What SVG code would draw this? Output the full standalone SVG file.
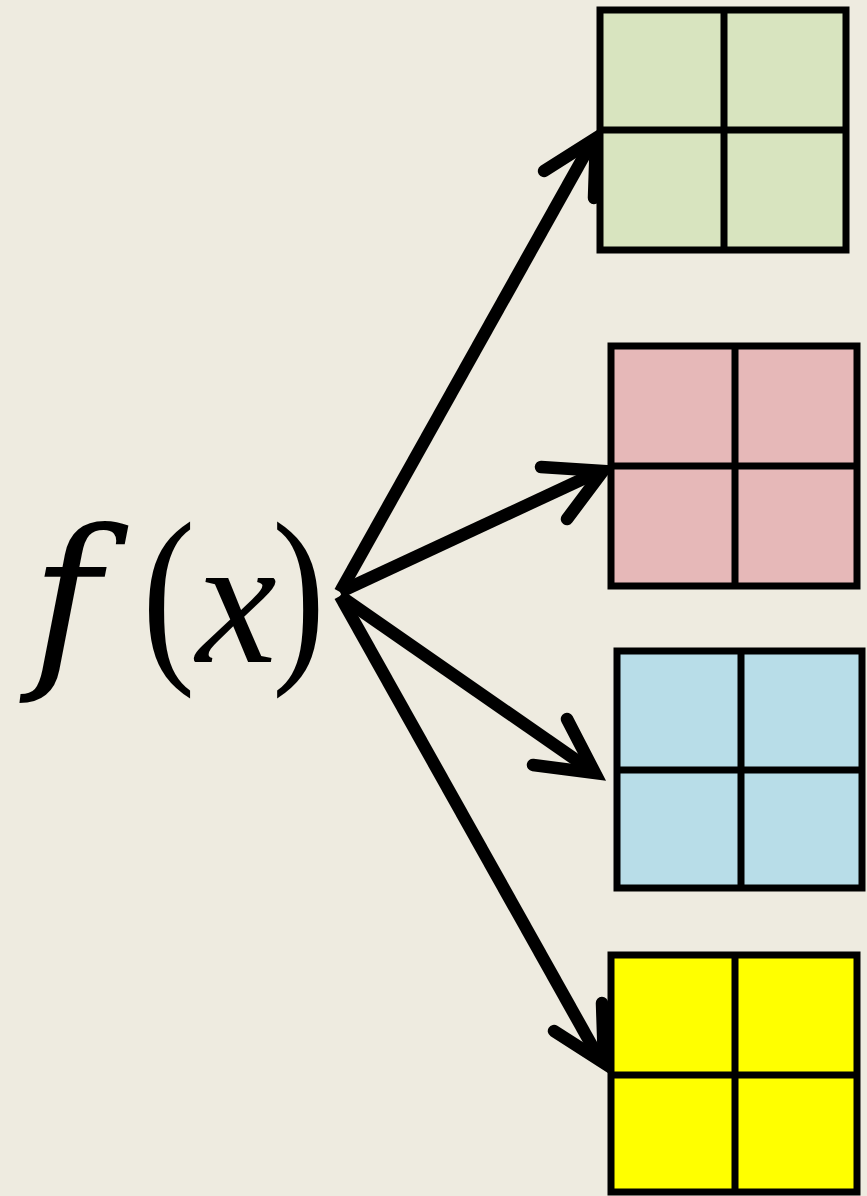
<svg xmlns="http://www.w3.org/2000/svg" width="867" height="1196" viewBox="0 0 867 1196">
<style>
.bg{fill:#eeebe0}
.sq rect,.sq line{stroke:#000;stroke-width:7}
.shaft{stroke:#000;stroke-width:12.5;fill:none;stroke-linecap:butt}
.head{stroke:#000;stroke-width:12.5;fill:none;stroke-linecap:round;stroke-linejoin:miter;stroke-miterlimit:10}
.t{font-family:"Liberation Serif","Times New Roman",serif;font-size:195px;fill:#000}
.ti{font-family:"DejaVu Serif",serif;font-style:italic;font-size:188px;fill:#000}
.tx{font-family:"Liberation Serif","Times New Roman",serif;font-style:italic;font-size:182px;fill:#000}
</style>
<rect class="bg" x="0" y="0" width="867" height="1196"/>
<g id="fx">
<text class="ti" x="31" y="664">f</text>
<text class="t" transform="translate(142 657) scale(0.82 1)" x="0" y="0">(</text>
<text class="tx" x="196" y="662">x</text>
<text class="t" transform="translate(272 657) scale(0.82 1)" x="0" y="0">)</text>
</g>
<g id="sq1" class="sq">
<rect x="600" y="10" width="246" height="240" fill="#d8e4bf"/>
<line x1="724" y1="10" x2="724" y2="250"/>
<line x1="600" y1="130" x2="846" y2="130"/>
</g>
<g id="sq2" class="sq">
<rect x="611" y="346" width="246" height="240" fill="#e6b8b8"/>
<line x1="735" y1="346" x2="735" y2="586"/>
<line x1="611" y1="466" x2="857" y2="466"/>
</g>
<g id="sq3" class="sq">
<rect x="617" y="651" width="245" height="237" fill="#b8dde8"/>
<line x1="741" y1="651" x2="741" y2="888"/>
<line x1="617" y1="770" x2="862" y2="770"/>
</g>
<g id="sq4" class="sq">
<rect x="611" y="955" width="246" height="237" fill="#ffff00"/>
<line x1="735" y1="955" x2="735" y2="1192"/>
<line x1="611" y1="1075" x2="857" y2="1075"/>
</g>
<g id="connectors">
<path class="shaft" d="M340 592 L593 140"/>
<path class="head" d="M544 171 L596 138 L594 198"/>
<path class="shaft" d="M340 592 L600 471"/>
<path class="head" d="M541 467 L603 471 L567 519"/>
<path class="shaft" d="M340 596 L592 771"/>
<path class="head" d="M567 719 L595 773 L533 765"/>
<path class="shaft" d="M340 596 L600 1060"/>
<path class="head" d="M554 1031 L604 1063 L602 1003"/>
</g>
</svg>
